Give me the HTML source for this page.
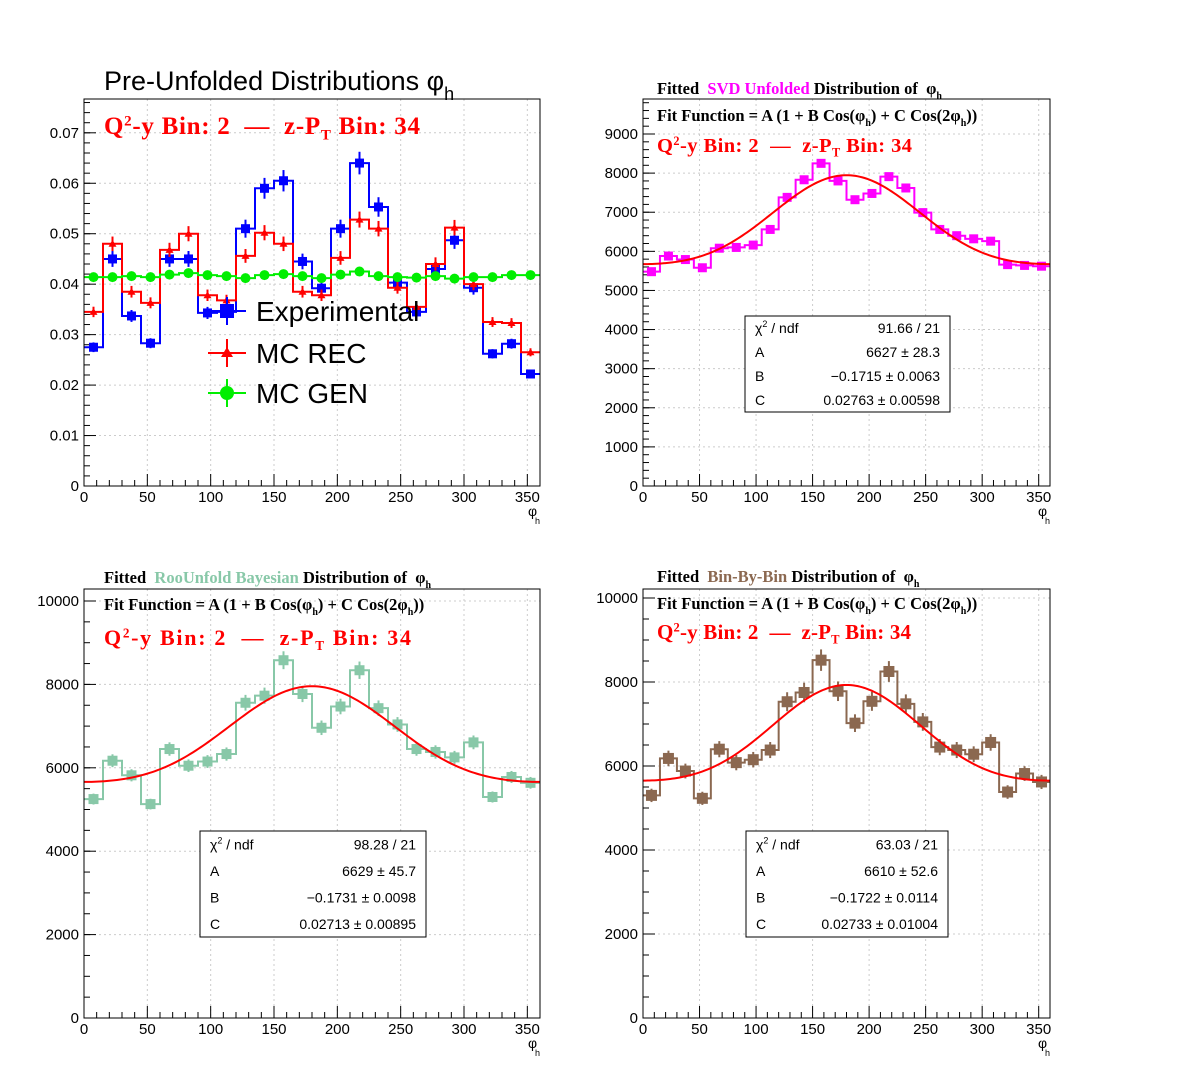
<!DOCTYPE html>
<html><head><meta charset="utf-8">
<style>
body{margin:0;background:#fff;}
svg{display:block;font-family:"Liberation Sans",sans-serif;}
.ser{font-family:"Liberation Serif",serif;font-weight:bold;}
</style></head>
<body>
<svg id="c" width="1196" height="1072" viewBox="0 0 1196 1072" xmlns="http://www.w3.org/2000/svg">
<rect width="1196" height="1072" fill="#fff"/>
</svg>
<script>
const NS="http://www.w3.org/2000/svg";
const svg=document.getElementById('c');
// ---- data ----
const binCenters=[7.5,22.5,37.5,52.5,67.5,82.5,97.5,112.5,127.5,142.5,157.5,172.5,187.5,202.5,217.5,232.5,247.5,262.5,277.5,292.5,307.5,322.5,337.5,352.5];
const expVals=[0.0275,0.0450,0.0337,0.0283,0.0450,0.0450,0.0343,0.0345,0.0510,0.0590,0.0605,0.0445,0.0392,0.0510,0.0640,0.0553,0.0403,0.0345,0.0430,0.0487,0.0393,0.0262,0.0282,0.0222];
const recVals=[0.0345,0.0480,0.0385,0.0363,0.0468,0.0500,0.0378,0.0368,0.0456,0.0502,0.0480,0.0385,0.0378,0.0452,0.0528,0.0510,0.0393,0.0355,0.0440,0.0512,0.0400,0.0325,0.0323,0.0265];
const genVals=[0.0414,0.0414,0.0416,0.0414,0.0419,0.0422,0.0418,0.0416,0.0412,0.0418,0.0420,0.0416,0.0412,0.0419,0.0425,0.0416,0.0414,0.0413,0.0416,0.0411,0.0414,0.0414,0.0418,0.0418];
const svdVals=[5480,5880,5790,5580,6080,6100,6160,6560,7380,7830,8250,7800,7320,7480,7910,7620,6990,6560,6400,6320,6260,5660,5640,5620];
const bayVals=[5250,6170,5820,5130,6450,6050,6150,6330,7560,7730,8580,7770,6960,7470,8340,7430,7040,6450,6380,6250,6610,5300,5780,5640];
const bbbVals=[5300,6180,5880,5230,6400,6080,6150,6380,7530,7750,8520,7780,7020,7540,8250,7480,7050,6450,6380,6280,6560,5380,5820,5620];
const fitSVD=[6627,-0.1715,0.02763];
const fitBay=[6629,-0.1731,0.02713];
const fitBBB=[6610,-0.1722,0.02733];
const xTicks=[0,50,100,150,200,250,300,350];
const yTicksTL=[0,0.01,0.02,0.03,0.04,0.05,0.06,0.07];
const yTicksTLlab=["0","0.01","0.02","0.03","0.04","0.05","0.06","0.07"];
const yTicksTR=[0,1000,2000,3000,4000,5000,6000,7000,8000,9000];
const yTicksB=[0,2000,4000,6000,8000,10000];

function el(tag,attrs,parent,text){const e=document.createElementNS(NS,tag);for(const k in attrs)e.setAttribute(k,attrs[k]);if(text!==undefined)e.textContent=text;(parent||svg).appendChild(e);return e;}

function panel(name,x0,x1,y0,y1,ymax,yticks,ylabs,minorStep){
  const g=el('g',{},svg);
  
  
  const X=v=>x0+(v/360)*(x1-x0);
  const Y=v=>y1-(v/ymax)*(y1-y0);
  xTicks.forEach(t=>{const l=el('line',{x1:X(t),x2:X(t),y1:y0,y2:y1,stroke:'#ccc','stroke-dasharray':'2,3'},g);});
  yticks.forEach(t=>{const l=el('line',{x1:x0,x2:x1,y1:Y(t),y2:Y(t),stroke:'#ccc','stroke-dasharray':'2,3'},g);});
  for(let v=0;v<=ymax;v+=minorStep){el('line',{x1:x0,x2:x0+6,y1:Y(v),y2:Y(v),stroke:'#000'},g);}
  for(let v=0;v<=360;v+=10){el('line',{x1:X(v),x2:X(v),y1:y1,y2:y1-(v%50==0?12:6),stroke:'#000'},g);}
  yticks.forEach((t,i)=>{el('line',{x1:x0,x2:x0+12,y1:Y(t),y2:Y(t),stroke:'#000'},g);
    const tx=el('text',{x:x0-5,y:Y(t)+5,'text-anchor':'end','font-size':15},g,ylabs?ylabs[i]:String(t));});
  xTicks.forEach(t=>{const tx=el('text',{x:X(t),y:y1+16,'text-anchor':'middle','font-size':15},g,String(t));});
  const xt=el('text',{x:x1-12,y:y1+30,'font-size':14},g,'\u03c6');
  el('text',{x:x1-5,y:y1+38,'font-size':9},g,'h');
  return {g,X,Y,x0,x1,y0,y1};
}
function frame(p){el('rect',{x:p.x0,y:p.y0,width:p.x1-p.x0,height:p.y1-p.y0,fill:'none',stroke:'#000'},p.g);}
function hist(p,vals,color,name,marker,errFrac,ms){
  ms=ms||9;
  const g=el('g',{},p.g);
  
  
  let d='';
  vals.forEach((v,i)=>{const xa=p.X(binCenters[i]-7.5),xb=p.X(binCenters[i]+7.5);d+=(i==0?'M'+xa+','+p.Y(v):'L'+xa+','+p.Y(v))+'L'+xb+','+p.Y(v);});
  el('path',{d,fill:'none',stroke:color,'stroke-width':2},g);
  vals.forEach((v,i)=>{const cx=p.X(binCenters[i]),cy=p.Y(v);const e=Math.abs(p.Y(v*(1+errFrac))-cy);
    el('line',{x1:cx,x2:cx,y1:cy-e,y2:cy+e,stroke:color,'stroke-width':2},g);
    let m;
    if(marker=='sq') m=el('rect',{x:cx-ms/2,y:cy-ms/2,width:ms,height:ms,fill:color},g);
    else if(marker=='tri') m=el('path',{d:`M${cx-4},${cy+3}L${cx+4},${cy+3}L${cx},${cy-4}Z`,fill:color},g);
    else m=el('circle',{cx,cy,r:5,fill:color},g);
    });
}
function fitCurve(p,f){
  let d='';for(let a=0;a<=360;a+=2){const v=f[0]*(1+f[1]*Math.cos(a*Math.PI/180)+f[2]*Math.cos(2*a*Math.PI/180));d+=(a==0?'M':'L')+p.X(a)+','+p.Y(v);}
  const c=el('path',{d,fill:'none',stroke:'#f00','stroke-width':2},p.g);
}
function statBox(p,x,y,w,h,rows){
  const g=el('g',{},p.g);
  el('rect',{x,y,width:w,height:h,fill:'#fff',stroke:'#000'},g);
  rows.forEach((r,i)=>{const ty=y+h*(i+0.55)/4+4;
    const a=el('text',{x:x+10,y:ty,'font-size':14},g);a.innerHTML=r[0];
    el('text',{x:x+w-10,y:ty,'font-size':14,'text-anchor':'end'},g,r[1]);});
}
function redLabel(g,x,y,size,wid){
  const t=el('text',{x,y,'font-size':size,fill:'#f00',class:'ser',textLength:wid,lengthAdjust:'spacing'},g);
  t.innerHTML=`Q<tspan dy="-${size*0.35}" font-size="${size*0.6}">2</tspan><tspan dy="${size*0.35}">-y Bin: 2 &#160;\u2014 &#160;z-P</tspan><tspan dy="${size*0.22}" font-size="${size*0.6}">T</tspan><tspan dy="-${size*0.22}"> Bin: 34</tspan>`;
  
}
function fitTitle(g,x,y,mid,col){
  const t=el('text',{x,y,'font-size':16.5,class:'ser'},g);
  t.innerHTML=`Fitted &#160;<tspan fill="${col}">${mid}</tspan> Distribution of &#160;\u03c6<tspan dy="5" font-size="10">h</tspan>`;
  
  const f=el('text',{x,y:y+27,'font-size':16.5,class:'ser'},g);
  f.innerHTML=`Fit Function = A (1 + B Cos(\u03c6<tspan dy="5" font-size="10">h</tspan><tspan dy="-5">) + C Cos(2\u03c6</tspan><tspan dy="5" font-size="10">h</tspan><tspan dy="-5">))</tspan>`;
  
}
// ---- top-left ----
const p1=panel('pre-unfolded-panel',84,540,99,486,0.0767,yTicksTL,yTicksTLlab,0.002);
hist(p1,expVals,'#0000ff','experimental-series','sq',0.035);
hist(p1,recVals,'#ff0000','mc-rec-series','tri',0.03);
hist(p1,genVals,'#00ee00','mc-gen-series','circ',0.005);
frame(p1);
const t1=el('text',{x:104,y:90,'font-size':27},p1.g);t1.innerHTML='Pre-Unfolded Distributions \u03c6<tspan dy="10" font-size="18">h</tspan>';

redLabel(p1.g,104,134,25,316);
const leg=el('g',{},p1.g);
[['Experimental','#0000ff','sq',311],['MC REC','#ff0000','tri',353],['MC GEN','#00ee00','circ',393]].forEach(r=>{
  const e=el('g',{},leg);
  el('line',{x1:208,x2:246,y1:r[3],y2:r[3],stroke:r[1],'stroke-width':2},e);
  el('line',{x1:227,x2:227,y1:r[3]-14,y2:r[3]+14,stroke:r[1],'stroke-width':2},e);
  if(r[2]=='sq')el('rect',{x:220,y:r[3]-7,width:14,height:14,fill:r[1]},e);
  else if(r[2]=='tri')el('path',{d:`M221,${r[3]+4}L233,${r[3]+4}L227,${r[3]-6}Z`,fill:r[1]},e);
  else el('circle',{cx:227,cy:r[3],r:7,fill:r[1]},e);
  el('text',{x:256,y:r[3]+10,'font-size':28},e,r[0]);
});
// ---- top-right ----
const p2=panel('svd-unfolded-panel',643,1050,99,486,9895,yTicksTR,null,200);
hist(p2,svdVals,'#ff00ff','svd-series','sq',0.012);
fitCurve(p2,fitSVD);frame(p2);
fitTitle(p2.g,657,94,'SVD Unfolded','#ff00ff');
redLabel(p2.g,657,152,20.5,255);
statBox(p2,745,316,205,96,[['\u03c7<tspan dy="-6" font-size="9">2</tspan><tspan dy="6"> / ndf</tspan>','91.66 / 21'],['A','6627  \u00b1 28.3'],['B','\u22120.1715  \u00b1 0.0063'],['C','0.02763  \u00b1 0.00598']]);
// ---- bottom-left ----
const p3=panel('bayesian-unfolded-panel',84,540,589,1018,10288,yTicksB,null,500);
hist(p3,bayVals,'#88c8a8','bayesian-series','sq',0.025,10);
fitCurve(p3,fitBay);frame(p3);
fitTitle(p3.g,104,583,'RooUnfold Bayesian','#88c8a8');
redLabel(p3.g,104,645,22,307);
statBox(p3,200,831,226,106,[['\u03c7<tspan dy="-6" font-size="9">2</tspan><tspan dy="6"> / ndf</tspan>','98.28 / 21'],['A','6629  \u00b1 45.7'],['B','\u22120.1731 \u00b1 0.0098'],['C','0.02713  \u00b1 0.00895']]);
// ---- bottom-right ----
const p4=panel('bin-by-bin-panel',643,1050,589,1018,10214,yTicksB,null,500);
hist(p4,bbbVals,'#8b6850','bin-by-bin-series','sq',0.03,11);
fitCurve(p4,fitBBB);frame(p4);
fitTitle(p4.g,657,582,'Bin-By-Bin','#8b6850');
redLabel(p4.g,657,639,21,254);
statBox(p4,746,831,202,106,[['\u03c7<tspan dy="-6" font-size="9">2</tspan><tspan dy="6"> / ndf</tspan>','63.03 / 21'],['A','6610 \u00b1 52.6'],['B','\u22120.1722 \u00b1 0.0114'],['C','0.02733 \u00b1 0.01004']]);
</script>
</body></html>
